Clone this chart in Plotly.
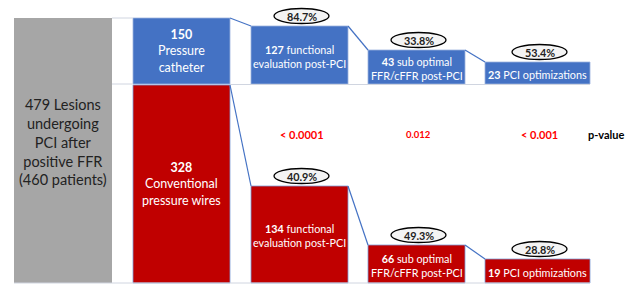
import plotly.graph_objects as go

# ---------------- data ----------------
total_label = "479 Lesions<br>undergoing<br>PCI after<br>positive FFR<br>(460 patients)"
stage_labels = ["", "functional<br>evaluation post-PCI", "sub optimal<br>FFR/cFFR post-PCI", "PCI optimizations"]
catheter_counts = [150, 127, 43, 23]
wire_counts = [328, 134, 66, 19]
catheter_pct = ["84.7%", "33.8%", "53.4%"]
wire_pct = ["40.9%", "49.3%", "28.8%"]
p_values = ["< 0.0001", "0.012", "< 0.001"]
group_names = ["Pressure<br>catheter", "Conventional<br>pressure wires"]

# ---------------- layout geometry (pixel-like units) ----------------
W, H = 632, 284
col_x0 = [133, 251, 368, 485]
col_x1 = [230, 348, 465, 590]
blue_top = [18, 26, 50, 62]
blue_bot = 84
red_top = [85, 186, 245, 259]
red_bot = 283
gray_box = (14, 112, 18, 283)

BLUE = "#4472C4"
RED = "#C00000"
GRAY = "#A6A6A6"
FONT = "Lato"

fig = go.Figure()

centers = [(a + b) / 2 for a, b in zip(col_x0, col_x1)]
widths = [b - a for a, b in zip(col_x0, col_x1)]

# gray total box
fig.add_trace(go.Bar(x=[(gray_box[0] + gray_box[1]) / 2], width=[gray_box[1] - gray_box[0]],
                     base=[gray_box[2]], y=[gray_box[3] - gray_box[2]],
                     marker=dict(color=GRAY, line=dict(width=0)), hoverinfo="skip"))
# catheter boxes
fig.add_trace(go.Bar(x=centers, width=widths, base=blue_top,
                     y=[blue_bot - t for t in blue_top],
                     marker=dict(color=BLUE, line=dict(color="#9DB3DE", width=0.8)), hoverinfo="skip"))
# wire boxes
fig.add_trace(go.Bar(x=centers, width=widths, base=red_top,
                     y=[red_bot - t for t in red_top],
                     marker=dict(color=RED, line=dict(color="#7F9CD6", width=0.8)), hoverinfo="skip"))

# connecting lines (top-right corner to next top-left corner)
for tops in (blue_top, red_top):
    for i in range(3):
        fig.add_trace(go.Scatter(x=[col_x1[i], col_x0[i + 1]], y=[tops[i], tops[i + 1]],
                                 mode="lines", line=dict(color=BLUE, width=1.2), hoverinfo="skip"))

# light grid lines
grid = [([112, 133], [18, 18]), ([112, 133], [84, 84]), ([230, 590], [84.5, 84.5]),
        ([14, 590], [283, 283])]
for gx, gy in grid:
    fig.add_trace(go.Scatter(x=gx, y=gy, mode="lines", line=dict(color="#D0D5E0", width=1),
                             hoverinfo="skip"))

ann = []
# gray text
ann.append(dict(x=63, y=142, text=total_label, font=dict(size=14.5, color="#222222")))
# first column texts
ann.append(dict(x=centers[0], y=51, text=f"<b>{catheter_counts[0]}</b><br>{group_names[0]}",
                font=dict(size=12.5, color="white")))
ann.append(dict(x=centers[0], y=184, text=f"<b>{wire_counts[0]}</b><br>{group_names[1]}",
                font=dict(size=12.5, color="white")))
# later columns
for i in range(1, 4):
    ann.append(dict(x=centers[i], y=(blue_top[i] + blue_bot) / 2 + 1,
                    text=f"<b>{catheter_counts[i]}</b> {stage_labels[i]}",
                    font=dict(size=10.8, color="white")))
    ann.append(dict(x=centers[i], y=(red_top[i] + red_bot) / 2 + 1,
                    text=f"<b>{wire_counts[i]}</b> {stage_labels[i]}",
                    font=dict(size=10.8, color="white")))

# percentage ellipses
ell_w, ell_h = 55, 15
shapes = []
for i in range(3):
    for tops, pcts in ((blue_top, catheter_pct), (red_top, wire_pct)):
        cx = centers[i + 1] + 2
        cy = tops[i + 1] - 10
        shapes.append(dict(type="circle", xref="x", yref="y", x0=cx - ell_w / 2, x1=cx + ell_w / 2,
                           y0=cy - ell_h / 2, y1=cy + ell_h / 2,
                           line=dict(color="black", width=1.3), fillcolor="#F4F4F4"))
        ann.append(dict(x=cx, y=cy, text=f"<b>{pcts[i]}</b>", font=dict(size=10.8, color="#222222")))

# p-values
for i in range(3):
    ann.append(dict(x=centers[i + 1] + 2, y=134, text=f"<b>{p_values[i]}</b>",
                    font=dict(size=11 if i != 1 else 9.5, color="#FF0000")))
ann.append(dict(x=606, y=134, text="<b>p-value</b>", font=dict(size=11, color="black")))

for a in ann:
    a.update(xref="x", yref="y", showarrow=False)
    a["font"]["family"] = FONT

fig.update_layout(
    width=W, height=H, margin=dict(l=0, r=0, t=0, b=0),
    paper_bgcolor="white", plot_bgcolor="white", showlegend=False, barmode="overlay",
    xaxis=dict(range=[0, W], visible=False, fixedrange=True),
    yaxis=dict(range=[H, 0], visible=False, fixedrange=True),
    annotations=ann, shapes=shapes,
)

fig.write_html("out.html", config={"displayModeBar": False, "staticPlot": True},
               post_script="document.body.style.margin='0';document.body.style.overflow='hidden';")
